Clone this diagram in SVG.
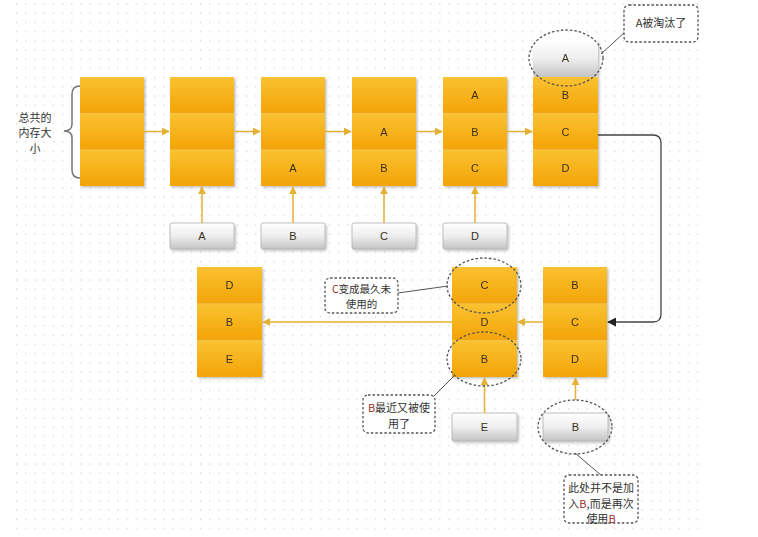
<svg xmlns="http://www.w3.org/2000/svg" width="758" height="537" viewBox="0 0 758 537">
<defs>
<pattern id="grid" x="6.8" y="-0.6" width="9.2" height="9.2" patternUnits="userSpaceOnUse">
<circle cx="0.6" cy="4.6" r="0.8" fill="#d4d4d4"/>
</pattern>
<linearGradient id="cell" x1="0" y1="0" x2="0" y2="1">
<stop offset="0" stop-color="#FAC232"/>
<stop offset="1" stop-color="#F3A406"/>
</linearGradient>
<linearGradient id="gray" x1="0" y1="0" x2="0" y2="1">
<stop offset="0" stop-color="#ffffff"/>
<stop offset="0.5" stop-color="#eeeeee"/>
<stop offset="1" stop-color="#c4c4c4"/>
</linearGradient>
<filter id="sh" x="-10%" y="-10%" width="130%" height="130%">
<feDropShadow dx="1.5" dy="1.5" stdDeviation="1" flood-color="#000" flood-opacity="0.25"/>
</filter>
<marker id="ga" viewBox="0 0 10 10" refX="9" refY="5" markerWidth="8" markerHeight="8" markerUnits="userSpaceOnUse" orient="auto">
<path d="M0,0 L10,5 L0,10 z" fill="#E4B035"/>
</marker>
<marker id="ka" viewBox="0 0 10 10" refX="9" refY="5" markerWidth="9" markerHeight="9" markerUnits="userSpaceOnUse" orient="auto">
<path d="M0,0 L10,5 L0,10 z" fill="#222"/>
</marker>
</defs>
<style>
.cell{fill:url(#cell);}
.blk{filter:url(#sh);}
.gbox{fill:url(#gray);stroke:#b0b0b0;stroke-width:0.8;filter:url(#sh);}
.lbl{font-family:"Liberation Sans","Noto Sans CJK SC",sans-serif;font-size:11px;fill:#3a3020;text-anchor:middle;dominant-baseline:central;}
.cn{font-family:"Noto Sans CJK SC","Liberation Sans",sans-serif;font-size:11px;fill:#333;text-anchor:middle;dominant-baseline:central;}
.sm{font-size:10.5px;}
.red{fill:#9a2d2d;}
.gl{stroke:#E4B035;stroke-width:1.5;fill:none;marker-end:url(#ga);}
.dash{fill:none;stroke:#555;stroke-width:1.3;stroke-dasharray:2.5 2;}
.cbox{fill:#fff;stroke:#555;stroke-width:1.3;stroke-dasharray:2.5 2;}
.ln{stroke:#555;stroke-width:1;fill:none;}
</style>
<rect x="0" y="0" width="758" height="537" fill="#fff"/>
<rect x="10" y="0" width="690" height="530" fill="url(#grid)"/>

<g id="total-label">
<path d="M80,86 Q72,86 72,94 L72,124 Q72,131 64,131 Q72,131 72,138 L72,170 Q72,178 80,178" fill="none" stroke="#777" stroke-width="1.5"/>
<text class="cn" x="35" y="117">总共的</text>
<text class="cn" x="35" y="132">内存大</text>
<text class="cn" x="35" y="148">小</text>
</g>

<g id="block1" class="blk">
<rect class="cell" x="80" y="77" width="64" height="36.3"/>
<rect class="cell" x="80" y="113.3" width="64" height="36.4"/>
<rect class="cell" x="80" y="149.7" width="64" height="36.3"/>
</g>
<g id="block2" class="blk">
<rect class="cell" x="170" y="77" width="64" height="36.3"/>
<rect class="cell" x="170" y="113.3" width="64" height="36.4"/>
<rect class="cell" x="170" y="149.7" width="64" height="36.3"/>
</g>
<g id="block3" class="blk">
<rect class="cell" x="261" y="77" width="64" height="36.3"/>
<rect class="cell" x="261" y="113.3" width="64" height="36.4"/>
<rect class="cell" x="261" y="149.7" width="64" height="36.3"/>
<text class="lbl" x="293" y="168">A</text>
</g>
<g id="block4" class="blk">
<rect class="cell" x="352" y="77" width="64" height="36.3"/>
<rect class="cell" x="352" y="113.3" width="64" height="36.4"/>
<rect class="cell" x="352" y="149.7" width="64" height="36.3"/>
<text class="lbl" x="384" y="131.5">A</text>
<text class="lbl" x="384" y="168">B</text>
</g>
<g id="block5" class="blk">
<rect class="cell" x="443" y="77" width="64" height="36.3"/>
<rect class="cell" x="443" y="113.3" width="64" height="36.4"/>
<rect class="cell" x="443" y="149.7" width="64" height="36.3"/>
<text class="lbl" x="475" y="95">A</text>
<text class="lbl" x="475" y="131.5">B</text>
<text class="lbl" x="475" y="168">C</text>
</g>
<g id="block6" class="blk">
<rect x="533" y="40" width="65" height="37" rx="3" fill="url(#gray)"/>
<rect class="cell" x="533" y="77" width="65" height="36.3"/>
<rect class="cell" x="533" y="113.3" width="65" height="36.4"/>
<rect class="cell" x="533" y="149.7" width="65" height="36.3"/>
<text class="lbl" x="565.5" y="58">A</text>
<text class="lbl" x="565.5" y="95">B</text>
<text class="lbl" x="565.5" y="131.5">C</text>
<text class="lbl" x="565.5" y="168">D</text>
</g>

<g id="inA"><rect class="gbox" x="170" y="223" width="64" height="26" rx="2"/><text class="lbl" x="202" y="236">A</text></g>
<g id="inB"><rect class="gbox" x="261" y="223" width="64" height="26" rx="2"/><text class="lbl" x="293" y="236">B</text></g>
<g id="inC"><rect class="gbox" x="352" y="223" width="64" height="26" rx="2"/><text class="lbl" x="384" y="236">C</text></g>
<g id="inD"><rect class="gbox" x="443" y="223" width="64" height="26" rx="2"/><text class="lbl" x="475" y="236">D</text></g>

<g id="block7" class="blk">
<rect class="cell" x="543" y="267" width="64" height="36.7"/>
<rect class="cell" x="543" y="303.7" width="64" height="36.6"/>
<rect class="cell" x="543" y="340.3" width="64" height="36.7"/>
<text class="lbl" x="575" y="285">B</text>
<text class="lbl" x="575" y="322">C</text>
<text class="lbl" x="575" y="359">D</text>
</g>
<g id="block8" class="blk">
<rect class="cell" x="452" y="267" width="65" height="36.7"/>
<rect class="cell" x="452" y="303.7" width="65" height="36.6"/>
<rect class="cell" x="452" y="340.3" width="65" height="36.7"/>
<text class="lbl" x="484.5" y="285">C</text>
<text class="lbl" x="484.5" y="322">D</text>
<text class="lbl" x="484.5" y="359">B</text>
</g>
<g id="block9" class="blk">
<rect class="cell" x="197" y="267" width="65" height="36.7"/>
<rect class="cell" x="197" y="303.7" width="65" height="36.6"/>
<rect class="cell" x="197" y="340.3" width="65" height="36.7"/>
<text class="lbl" x="229.5" y="285">D</text>
<text class="lbl" x="229.5" y="322">B</text>
<text class="lbl" x="229.5" y="359">E</text>
</g>

<g id="inE"><rect class="gbox" x="452" y="413" width="65" height="28" rx="2"/><text class="lbl" x="484.5" y="427">E</text></g>
<g id="inB2"><rect class="gbox" x="543" y="413" width="65" height="28" rx="2"/><text class="lbl" x="575.5" y="427">B</text></g>

<g id="connectors">
<line class="gl" x1="144" y1="131.5" x2="169" y2="131.5"/>
<line class="gl" x1="234" y1="131.5" x2="260" y2="131.5"/>
<line class="gl" x1="325" y1="131.5" x2="351" y2="131.5"/>
<line class="gl" x1="416" y1="131.5" x2="442" y2="131.5"/>
<line class="gl" x1="507" y1="131.5" x2="532" y2="131.5"/>
<line class="gl" x1="202" y1="223" x2="202" y2="187"/>
<line class="gl" x1="293" y1="223" x2="293" y2="187"/>
<line class="gl" x1="384" y1="223" x2="384" y2="187"/>
<line class="gl" x1="475" y1="223" x2="475" y2="187"/>
<path d="M598,135 L653,135 Q661,135 661,143 L661,314 Q661,322 653,322 L608,322" fill="none" stroke="#444" stroke-width="1.3" marker-end="url(#ka)"/>
<line class="gl" x1="543" y1="322" x2="518" y2="322"/>
<line class="gl" x1="452" y1="322" x2="263" y2="322"/>
<line class="gl" x1="484.5" y1="413" x2="484.5" y2="378"/>
<line class="gl" x1="575.5" y1="400" x2="575.5" y2="378"/>
</g>

<g id="callout-A">
<ellipse class="dash" cx="566" cy="58" rx="37" ry="28"/>
<line class="ln" x1="601" y1="54" x2="625" y2="32"/>
<rect class="cbox" x="624" y="5" width="74" height="37" rx="5"/>
<text class="cn" x="661" y="22">A被淘汰了</text>
</g>

<g id="callout-C">
<ellipse class="dash" cx="484" cy="285.5" rx="37" ry="27.5"/>
<line class="ln" x1="398" y1="293" x2="448" y2="286"/>
<rect class="cbox" x="325" y="278" width="73" height="35" rx="5"/>
<text class="cn sm" x="361.5" y="288"><tspan class="red">C</tspan>变成最久未</text>
<text class="cn sm" x="361.5" y="303.5">使用的</text>
</g>

<g id="callout-B">
<ellipse class="dash" cx="484" cy="359" rx="37" ry="27"/>
<line class="ln" x1="433" y1="397" x2="454" y2="376"/>
<rect class="cbox" x="363" y="395" width="72" height="38" rx="5"/>
<text class="cn" x="399" y="407"><tspan class="red">B</tspan>最近又被使</text>
<text class="cn" x="399" y="423">用了</text>
</g>

<g id="callout-reuse">
<ellipse class="dash" cx="575" cy="427" rx="37" ry="27"/>
<line class="ln" x1="575" y1="453" x2="602" y2="476"/>
<rect class="cbox" x="564" y="475" width="74" height="48" rx="5"/>
<text class="cn" x="601" y="487">此处并不是加</text>
<text class="cn" x="601" y="503">入<tspan class="red">B</tspan>,而是再次</text>
<text class="cn" x="601" y="518">使用<tspan class="red">B</tspan></text>
</g>
</svg>
